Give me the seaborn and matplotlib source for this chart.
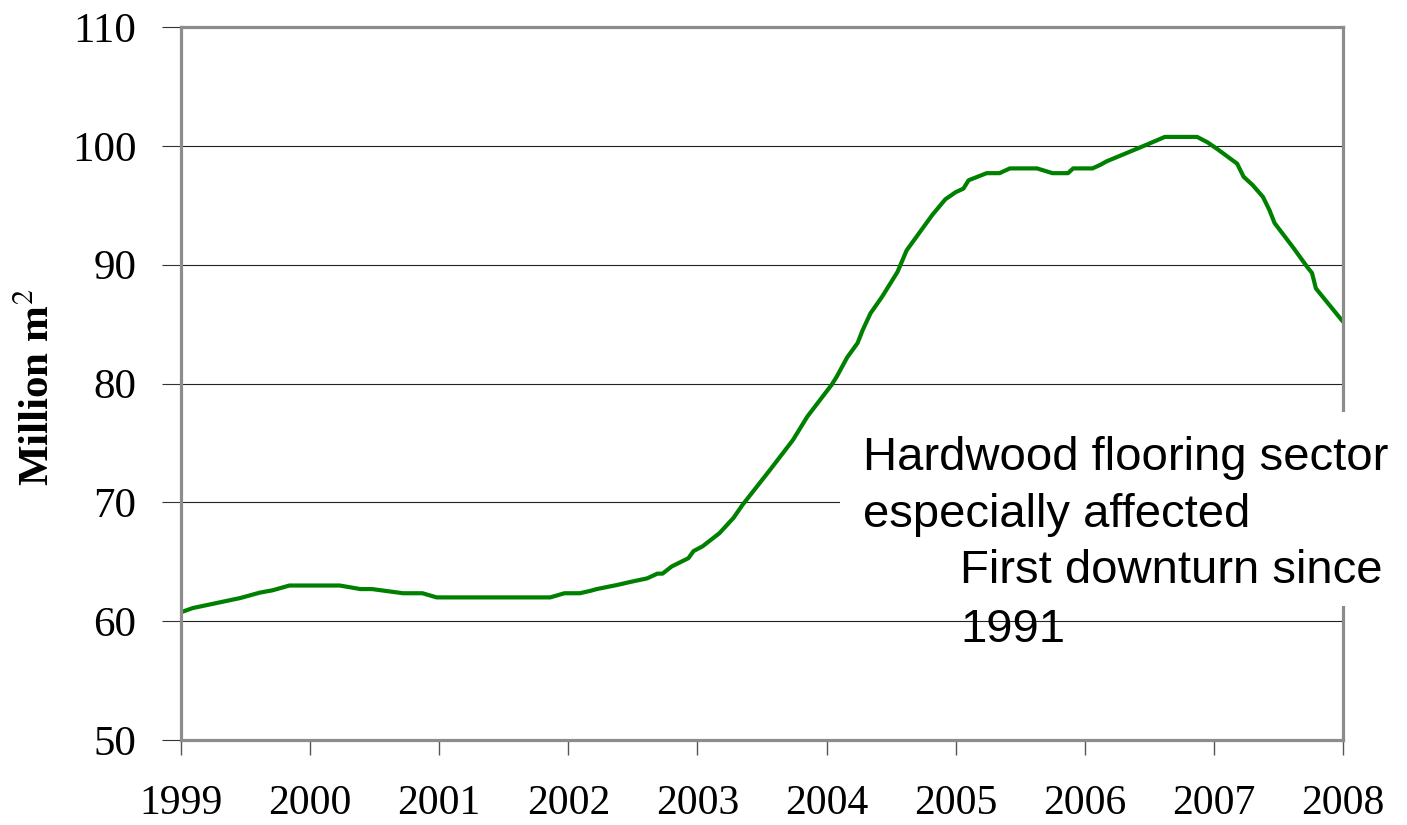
import matplotlib
matplotlib.use('Agg')
import pandas as pd
import matplotlib.pyplot as plt
import seaborn as sns
from matplotlib.patches import Rectangle

# Values (fractional year, million m2)
years = [1999.00, 1999.09, 1999.46, 1999.61, 1999.71, 1999.84, 2000.23, 2000.39,
         2000.48, 2000.72, 2000.87, 2000.98, 2001.86, 2001.97, 2002.09, 2002.17,
         2002.22, 2002.38, 2002.48, 2002.61, 2002.69, 2002.73, 2002.80, 2002.93,
         2002.97, 2003.04, 2003.17, 2003.28, 2003.35, 2003.56, 2003.74, 2003.85,
         2004.04, 2004.08, 2004.16, 2004.24, 2004.28, 2004.34, 2004.43, 2004.55,
         2004.62, 2004.72, 2004.82, 2004.92, 2005.00, 2005.06, 2005.10, 2005.24,
         2005.34, 2005.42, 2005.63, 2005.75, 2005.87, 2005.91, 2006.06, 2006.12,
         2006.17, 2006.37, 2006.48, 2006.62, 2006.87, 2006.95, 2007.03, 2007.18,
         2007.23, 2007.30, 2007.38, 2007.43, 2007.47, 2007.61, 2007.73, 2007.76,
         2007.79, 2008.00]
area = [60.75, 61.1, 61.95, 62.4, 62.6, 63.0, 63.0, 62.7,
        62.7, 62.35, 62.35, 62.0, 62.0, 62.35, 62.35, 62.55,
        62.7, 63.05, 63.3, 63.6, 64.0, 64.0, 64.6, 65.3,
        65.9, 66.3, 67.4, 68.7, 69.8, 72.7, 75.25, 77.2,
        79.9, 80.6, 82.2, 83.4, 84.5, 85.9, 87.3, 89.4,
        91.2, 92.7, 94.2, 95.5, 96.1, 96.4, 97.1, 97.7,
        97.7, 98.1, 98.1, 97.7, 97.7, 98.1, 98.1, 98.4,
        98.7, 99.6, 100.1, 100.75, 100.75, 100.3, 99.7, 98.5,
        97.4, 96.7, 95.7, 94.6, 93.5, 91.5, 89.7, 89.3,
        88.0, 85.2]

year_ticks = list(range(1999, 2009))
y_ticks = [50, 60, 70, 80, 90, 100, 110]
note_lines = ["Hardwood flooring sector", "especially affected",
              "First downturn since", "1991"]

df = pd.DataFrame({'Year': years, 'Area': area})

sns.set_style('white')
plt.rcParams['font.family'] = ['Liberation Serif', 'DejaVu Serif']
plt.rcParams['mathtext.fontset'] = 'stix'
plt.rcParams['text.color'] = 'black'
plt.rcParams['axes.labelcolor'] = 'black'
plt.rcParams['xtick.labelcolor'] = 'black'
plt.rcParams['ytick.labelcolor'] = 'black'

fig = plt.figure(figsize=(14.07, 8.25), dpi=100)
ax = fig.add_axes([181 / 1407, 85 / 825, 1162 / 1407, 713 / 825])

sns.lineplot(data=df, x='Year', y='Area', color='#008000', linewidth=3, ax=ax)

ax.set_xlim(1999, 2008)
ax.set_ylim(50, 110)
ax.set_xticks(year_ticks)
ax.set_yticks(y_ticks)
ax.grid(axis='y', color='#222222', linewidth=0.8)
ax.grid(axis='x', visible=False)
ax.set_axisbelow(True)

for s in ax.spines.values():
    s.set_color('#8c8c8c')
    s.set_linewidth(2.3)

ax.tick_params(axis='y', left=True, length=14, width=0.8, color='#333333',
               labelsize=31, pad=18, labelcolor='black')
ax.tick_params(axis='x', bottom=True, length=11, width=1, color='#555555',
               labelsize=30, pad=21, labelcolor='black')

ax.set_xlabel('')
ax.set_ylabel('Million m$^2$', fontsize=31, fontweight='bold')
ax.yaxis.set_label_coords(-0.106, 0.494)

# white note box over the right part of the chart
fig.add_artist(Rectangle((0.597, 0.2655), 0.403, 0.2351, transform=fig.transFigure,
                         facecolor='white', edgecolor='none', zorder=5))

note_x = [0.6134, 0.6134, 0.6823, 0.6823]
note_y = [0.4303, 0.3612, 0.2933, 0.2218]
for t, xx, yy in zip(note_lines, note_x, note_y):
    fig.text(xx, yy, t, fontsize=34, family=['Liberation Sans', 'DejaVu Sans'],
             va='baseline', ha='left', color='black', zorder=6)

fig.savefig('out.png', dpi=100)
